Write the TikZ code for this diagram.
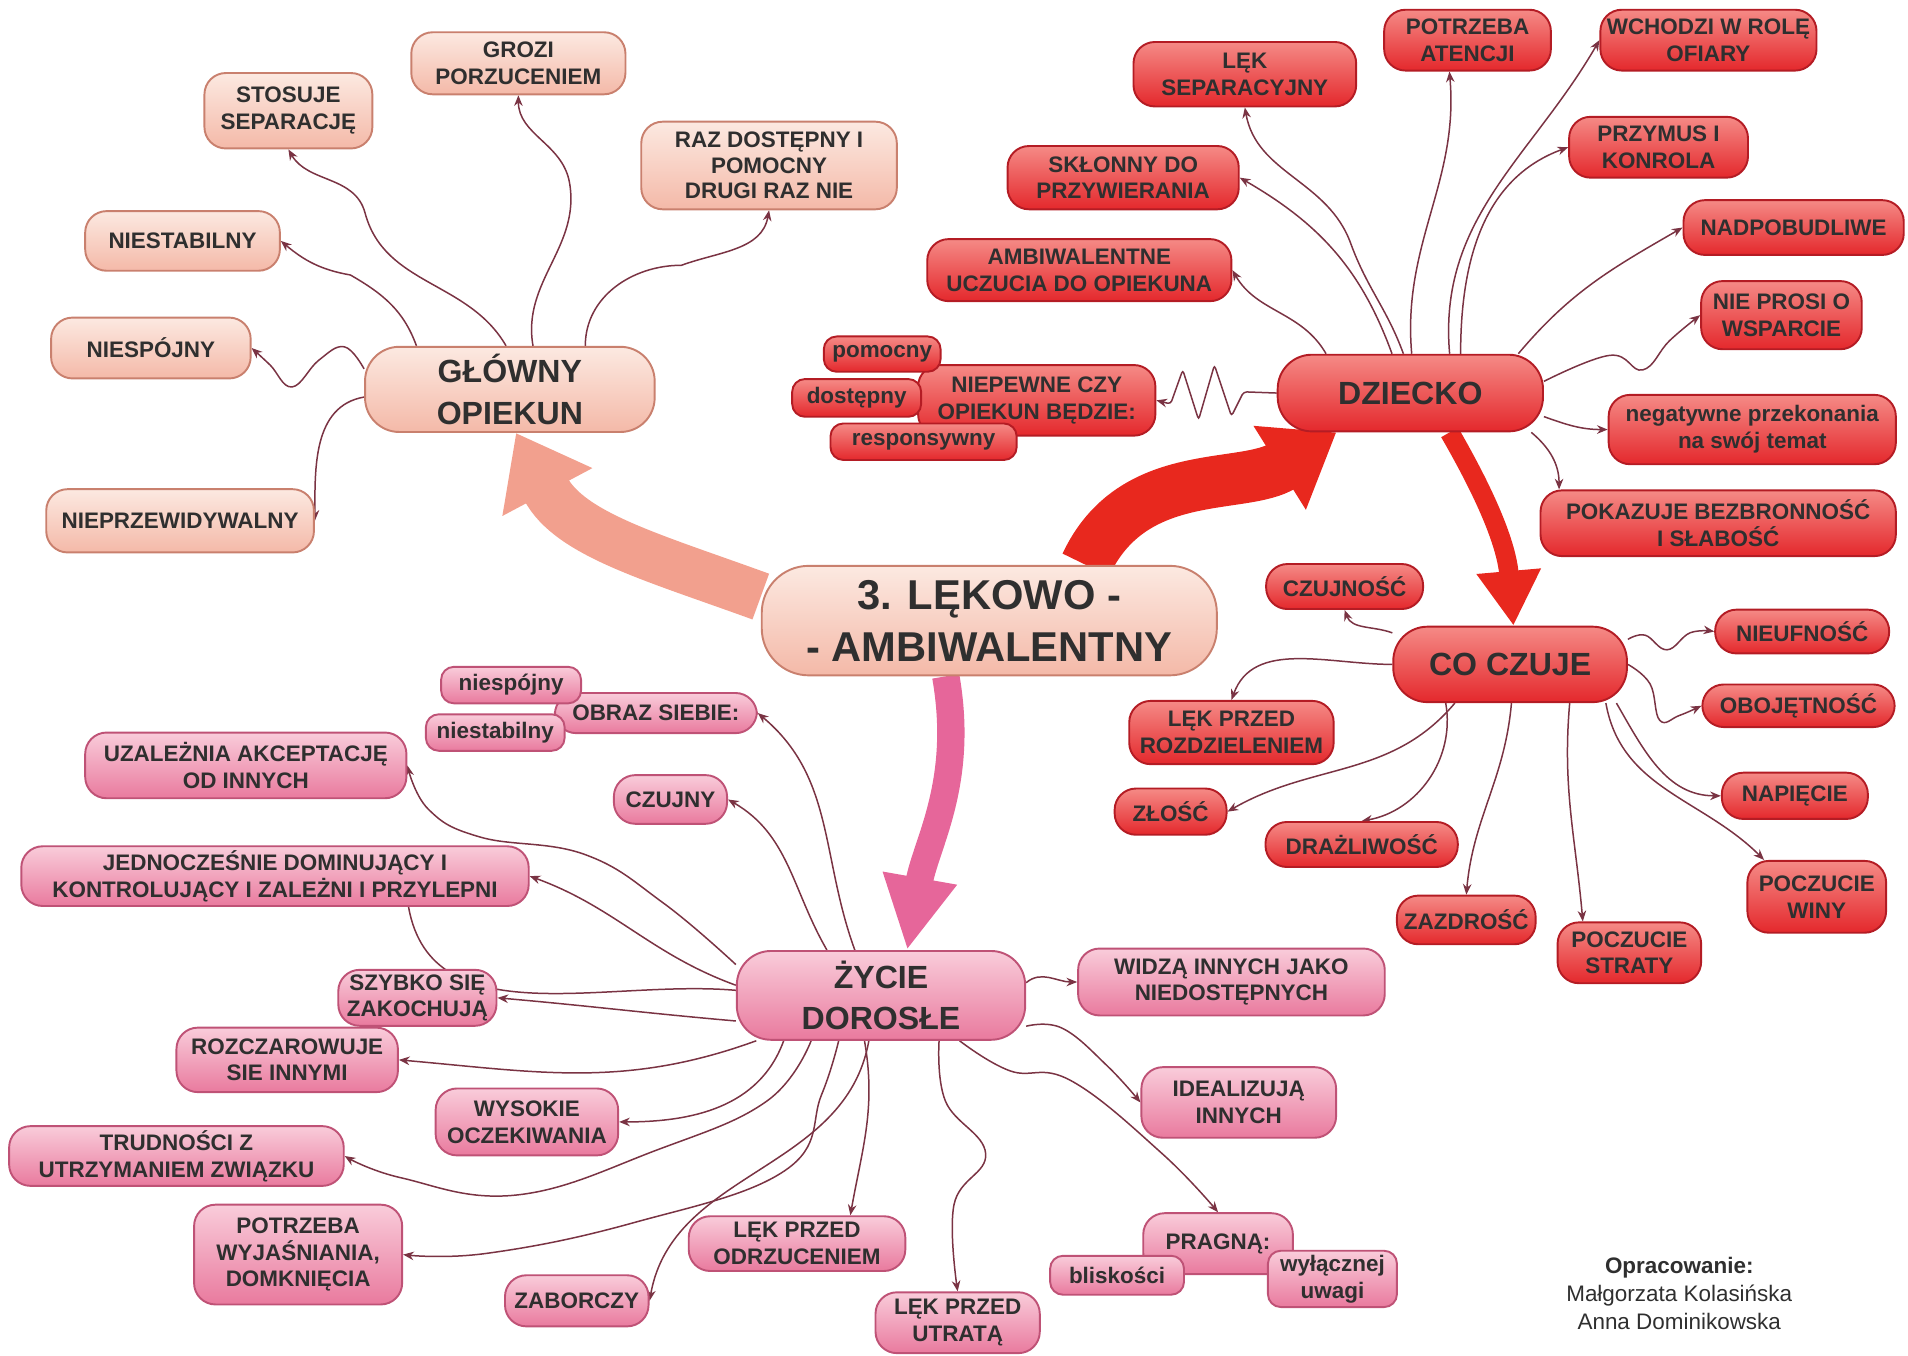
\documentclass[tikz,border=0pt]{standalone}
\usepackage{fontspec}
\setmainfont{Liberation Sans}
\usetikzlibrary{arrows.meta,backgrounds}
\definecolor{opkfill}{HTML}{F4B9A8}
\definecolor{opktop}{HTML}{FCE9E1}
\definecolor{opkline}{HTML}{C9806E}
\definecolor{dzkfill}{HTML}{E4282C}
\definecolor{dzktop}{HTML}{F58A86}
\definecolor{dzkline}{HTML}{B41C24}
\definecolor{dorfill}{HTML}{E97A9E}
\definecolor{dortop}{HTML}{F9CCDA}
\definecolor{dorline}{HTML}{BF5276}
\definecolor{linkc}{HTML}{7A3343}
\definecolor{txtc}{HTML}{2F2F2F}
\definecolor{arrowopk}{HTML}{F2A08E}
\definecolor{arrowdzk}{HTML}{E8281E}
\definecolor{arrowdor}{HTML}{E6669A}

\tikzset{
  sz/.style 2 args={minimum width=#1*0.2mm, minimum height=#2*0.2mm},
  bubble/.style={draw, line width=0.9pt, rounded corners=10pt, align=center, text=txtc,
    inner xsep=3pt, inner ysep=2pt, font=\fontsize{10.5}{12.5}\selectfont\bfseries},
  opk/.style={bubble, draw=opkline, top color=opktop, bottom color=opkfill},
  dzk/.style={bubble, draw=dzkline, top color=dzktop, bottom color=dzkfill},
  dor/.style={bubble, draw=dorline, top color=dortop, bottom color=dorfill},
  hub/.style={rounded corners=16pt, font=\fontsize{15}{19.5}\selectfont\bfseries},
  smallbub/.style={rounded corners=6pt},
  link/.style={draw=linkc, line width=0.7pt, -{Stealth[length=5pt,width=4pt]}},
  fat/.style={line cap=butt},
}

\begin{document}
\begin{tikzpicture}[x=0.2mm, y=-0.2mm]
\useasboundingbox (0,0) rectangle (1568,1114);

% centre
\node[opk, sz={374}{90}, rounded corners=22pt, font=\fontsize{19.5}{24.4}\selectfont\bfseries] (main) at (813,510) {3. LĘKOWO -\\- AMBIWALENTNY};

% glowny opiekun
\node[opk, hub, sz={238}{70}] (glowny) at (419,320) {GŁÓWNY\\OPIEKUN};
\node[opk, sz={176}{51}] (grozi) at (426,52) {GROZI\\PORZUCENIEM};
\node[opk, sz={138}{62}] (stosuje) at (237,91) {STOSUJE\\SEPARACJĘ};
\node[opk, sz={210}{72}, font=\fontsize{10.5}{11.8}\selectfont\bfseries] (raz) at (632,136) {RAZ DOSTĘPNY I\\POMOCNY\\DRUGI RAZ NIE};
\node[opk, sz={160}{49}] (opkniestab) at (150,198) {NIESTABILNY};
\node[opk, sz={164}{50}] (opkniespoj) at (124,286) {NIESPÓJNY};
\node[opk, sz={220}{52}] (nieprzew) at (148,428) {NIEPRZEWIDYWALNY};

% dziecko
\node[dzk, hub, sz={218}{63}] (dziecko) at (1159,323) {DZIECKO};
\node[dzk, sz={183}{53}] (leksep) at (1023,61) {LĘK\\SEPARACYJNY};
\node[dzk, sz={137}{50}] (atencja) at (1206,33) {POTRZEBA\\ATENCJI};
\node[dzk, sz={172}{50}] (ofiara) at (1404,33) {WCHODZI W ROLĘ\\OFIARY};
\node[dzk, sz={147}{50}] (przymus) at (1363,121) {PRZYMUS I\\KONROLA};
\node[dzk, sz={190}{52}] (sklonny) at (923,146) {SKŁONNY DO\\PRZYWIERANIA};
\node[dzk, sz={250}{51}] (ambiw) at (887,222) {AMBIWALENTNE\\UCZUCIA DO OPIEKUNA};
\node[dzk, sz={181}{45}] (nadpob) at (1474,187) {NADPOBUDLIWE};
\node[dzk, sz={132}{56}] (nieprosi) at (1464,259) {NIE PROSI O\\WSPARCIE};
\node[dzk, sz={236}{57}] (negat) at (1440,353) {negatywne przekonania\\na swój temat};
\node[dzk, sz={292}{54}] (pokazuje) at (1412,430) {POKAZUJE BEZBRONNOŚĆ\\I SŁABOŚĆ};
\node[dzk, sz={195}{58}] (niepewne) at (852,329) {NIEPEWNE CZY\\OPIEKUN BĘDZIE:};
\node[dzk, smallbub, sz={96}{29}] (pomocny) at (725,291) {pomocny};
\node[dzk, smallbub, sz={106}{31}] (dostepny) at (704,327) {dostępny};
\node[dzk, smallbub, sz={153}{30}] (respons) at (759,363) {responsywny};

% co czuje
\node[dzk, hub, sz={192}{62}] (coczuje) at (1241,546) {CO CZUJE};
\node[dzk, sz={129}{37}] (czujnosc) at (1105,482) {CZUJNOŚĆ};
\node[dzk, sz={143}{36}] (nieufnosc) at (1481,519) {NIEUFNOŚĆ};
\node[dzk, sz={158}{35}] (obojetnosc) at (1478,580) {OBOJĘTNOŚĆ};
\node[dzk, sz={120}{38}] (napiecie) at (1475,654) {NAPIĘCIE};
\node[dzk, sz={114}{59}] (wina) at (1493,737) {POCZUCIE\\WINY};
\node[dzk, sz={168}{52}] (rozdziel) at (1012,602) {LĘK PRZED\\ROZDZIELENIEM};
\node[dzk, sz={92}{38}] (zlosc) at (962,667) {ZŁOŚĆ};
\node[dzk, sz={158}{37}] (drazl) at (1119,694) {DRAŻLIWOŚĆ};
\node[dzk, sz={114}{40}] (zazdrosc) at (1205,756) {ZAZDROŚĆ};
\node[dzk, sz={118}{50}] (strata) at (1339,783) {POCZUCIE\\STRATY};

% zycie dorosle
\node[dor, hub, sz={237}{73}] (zycie) at (724,818) {ŻYCIE\\DOROSŁE};
\node[dor, sz={166}{33}] (obraz) at (539,586) {OBRAZ SIEBIE:};
\node[dor, smallbub, sz={115}{30}] (obrazniespoj) at (420,563) {niespójny};
\node[dor, smallbub, sz={114}{30}] (obrazniestab) at (407,602) {niestabilny};
\node[dor, sz={264}{54}] (uzalezn) at (202,629) {UZALEŻNIA AKCEPTACJĘ\\OD INNYCH};
\node[dor, sz={93}{40}] (czujny) at (551,657) {CZUJNY};
\node[dor, sz={417}{49}] (jednoczes) at (226,720) {JEDNOCZEŚNIE DOMINUJĄCY I\\KONTROLUJĄCY I ZALEŻNI I PRZYLEPNI};
\node[dor, sz={130}{46}] (szybko) at (343,820) {SZYBKO SIĘ\\ZAKOCHUJĄ};
\node[dor, sz={182}{53}] (rozczar) at (236,871) {ROZCZAROWUJE\\SIE INNYMI};
\node[dor, sz={150}{55}] (wysokie) at (433,922) {WYSOKIE\\OCZEKIWANIA};
\node[dor, sz={275}{48}] (trudnosci) at (145,950) {TRUDNOŚCI Z\\UTRZYMANIEM ZWIĄZKU};
\node[dor, sz={171}{82}] (wyjasn) at (245,1031) {POTRZEBA\\WYJAŚNIANIA,\\DOMKNIĘCIA};
\node[dor, sz={118}{42}] (zaborczy) at (474,1069) {ZABORCZY};
\node[dor, sz={178}{45}] (odrzuc) at (655,1022) {LĘK PRZED\\ODRZUCENIEM};
\node[dor, sz={135}{50}] (utrata) at (787,1087) {LĘK PRZED\\UTRATĄ};
\node[dor, sz={252}{55}] (widza) at (1012,807) {WIDZĄ INNYCH JAKO\\NIEDOSTĘPNYCH};
\node[dor, sz={160}{58}] (idealiz) at (1018,906) {IDEALIZUJĄ\\INNYCH};
\node[dor, sz={123}{50}] (pragna) at (1001,1022) {PRAGNĄ:};
\node[dor, smallbub, sz={110}{32}] (bliskosc) at (918,1048) {bliskości};
\node[dor, smallbub, sz={106}{46}] (uwaga) at (1095,1051) {wyłącznej\\uwagi};

\node[align=center, text=txtc, font=\fontsize{10.5}{13.3}\selectfont] (autorzy) at (1380,1063) {\textbf{Opracowanie:}\\Małgorzata Kolasińska\\Anna Dominikowska};

\begin{scope}[on background layer]
  % big arrows
  \draw[fat, draw=arrowopk, line width=0.8cm, -{Triangle[width=1.6cm,length=1.1cm]}] (main.174) to[out=160,in=-62] (glowny.-82);
  \draw[fat, draw=arrowdzk, line width=0.85cm, -{Triangle[width=1.55cm,length=1.1cm]}] (main.30) to[out=65,in=212] (dziecko.208);
  \draw[fat, draw=arrowdzk, line width=0.32cm, -{Triangle[width=1.0cm,length=0.9cm]}] (dziecko.-45) to[out=-60,in=95] (coczuje.85);
  \draw[fat, draw=arrowdor, line width=0.45cm, -{Triangle[width=1.15cm,length=1.2cm]}] (main.232) to[out=-80,in=80] (zycie.60);

  % glowny opiekun
  \draw[link] (glowny.62) to[out=100,in=-80] (468,150) to[out=100,in=-90] (grozi.south);
  \draw[link] (glowny.95) to[out=120,in=-75] (300,175) to[out=105,in=-60] (stosuje.south);
  \draw[link] (glowny.30) to[out=90,in=180] (560,218) to[out=20,in=-100] (raz.south);
  \draw[link] (glowny.155) to[out=110,in=-30] (288,226) to[out=170,in=-40] (opkniestab.east);
  \draw[link] plot[smooth, tension=0.7] coordinates {(glowny.172) (283,285) (262,296) (240,318) (222,300) (opkniespoj.east)};
  \draw[link] (glowny.183) to[out=190,in=90] (nieprzew.east);

  % dziecko
  \draw[link] (dziecko.100) to[out=110,in=-70] (1110,200) to[out=110,in=-80] (leksep.south);
  \draw[link] (dziecko.88) to[out=95,in=-85] (atencja.-120);
  \draw[link] (dziecko.45) to[out=95,in=240] (ofiara.west);
  \draw[link] (dziecko.38) to[out=90,in=200] (przymus.west);
  \draw[link] (dziecko.115) to[out=110,in=-30] (sklonny.east);
  \draw[link] (dziecko.155) to[out=120,in=-60] (ambiw.east);
  \draw[link] (dziecko.20) to[out=50,in=210] (nadpob.west);
  \draw[link] plot[smooth, tension=0.7] coordinates {(dziecko.5) (1323,292) (1350,304) (1372,280) (nieprosi.west)};
  \draw[link] (dziecko.-10) to[out=-20,in=180] (negat.west);
  \draw[link] (dziecko.-18) to[out=-40,in=90] (pokazuje.168);
  \draw[link, rounded corners=1.5pt] (dziecko.west) -- (1022,322) -- (1012,342) -- (998,300) -- (985,345) -- (972,304) -- (962,332) -- (niepewne.east);

  % co czuje
  \draw[link] (coczuje.165) to[out=160,in=-70] (czujnosc.south);
  \draw[link] plot[smooth, tension=0.7] coordinates {(coczuje.12) (1352,522) (1370,534) (1389,520) (nieufnosc.west)};
  \draw[link] plot[smooth, tension=0.7] coordinates {(coczuje.0) (1356,562) (1364,592) (1380,588) (obojetnosc.west)};
  \draw[link] (coczuje.-20) to[out=-60,in=180] (napiecie.west);
  \draw[link] (coczuje.-22) to[out=-80,in=135] (wina.145);
  \draw[link] (coczuje.-33) to[out=-95,in=95] (strata.146);
  \draw[link] (coczuje.-88) to[out=-95,in=85] (zazdrosc.north);
  \draw[link] (coczuje.211) to[out=-80,in=10] (drazl.north);
  \draw[link] (coczuje.west) to[out=180,in=70] (rozdziel.north);
  \draw[link] (coczuje.-145) to[out=-130,in=30] (zlosc.east);

  % zycie dorosle
  \draw[link] (zycie.120) to[out=110,in=-40] (obraz.east);
  \draw[link] (zycie.140) to[out=120,in=-30] (czujny.east);
  \draw[link] plot[smooth, tension=0.7] coordinates {(zycie.168) (545,742) (480,702) (395,688) (352,665) (uzalezn.east)};
  \draw[link] (zycie.176) to[out=160,in=-20] (jednoczes.east);
  \draw[draw=linkc, line width=0.7pt] (zycie.178) to[out=175,in=-80] (jednoczes.-13);
  \draw[link] (zycie.190) to[out=175,in=-5] (szybko.east);
  \draw[link] (zycie.200) to[out=200,in=-5] (rozczar.east);
  \draw[link] (zycie.205) to[out=-110,in=0] (wysokie.east);
  \draw[link] plot[smooth, tension=0.7] coordinates {(zycie.213) (630,905) (540,945) (425,982) (330,968) (trudnosci.east)};
  \draw[link] plot[smooth, tension=0.7] coordinates {(zycie.227) (675,900) (645,962) (520,1005) (400,1030) (wyjasn.east)};
  \draw[link] (zycie.-105) to[out=-100,in=80] (zaborczy.east);
  \draw[link] (zycie.-110) to[out=-80,in=80] (odrzuc.28);
  \draw[link] plot[smooth, tension=0.7] coordinates {(zycie.-38) (777,905) (810,948) (784,990) (utrata.north)};
  \draw[link] plot[smooth, tension=0.7] coordinates {(zycie.-30) (830,880) (880,888) (955,948) (pragna.north)};
  \draw[link] plot[smooth, tension=0.7] coordinates {(zycie.-12) (873,845) (910,876) (idealiz.west)};
  \draw[link] (zycie.5) to[out=40,in=180] (widza.west);
\end{scope}
\end{tikzpicture}
\end{document}
